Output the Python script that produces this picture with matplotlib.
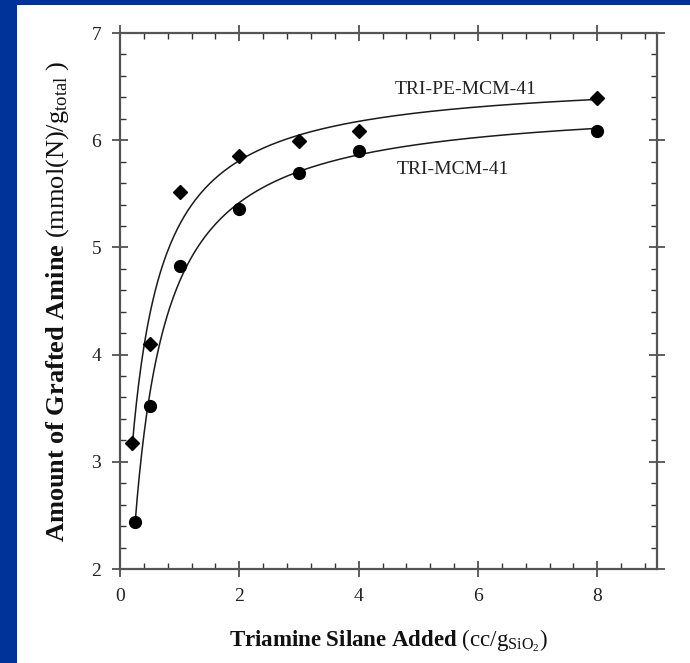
import numpy as np
import matplotlib
matplotlib.use("Agg")
import matplotlib.pyplot as plt
from matplotlib.patches import Rectangle
from matplotlib.ticker import MultipleLocator

# ---- data ----
pe_x = [0.2, 0.5, 1, 2, 3, 4, 8]
pe_y = [3.18, 4.10, 5.52, 5.85, 5.99, 6.09, 6.39]
tri_x = [0.25, 0.5, 1, 2, 3, 4, 8]
tri_y = [2.44, 3.52, 4.83, 5.36, 5.69, 5.90, 6.09]
series_names = ["TRI-PE-MCM-41", "TRI-MCM-41"]
x_ticks = [0, 2, 4, 6, 8]
y_ticks = [2, 3, 4, 5, 6, 7]

plt.rcParams["font.family"] = ["Liberation Serif", "DejaVu Serif"]
plt.rcParams["mathtext.fontset"] = "custom"
plt.rcParams["mathtext.rm"] = "Liberation Serif"
plt.rcParams["mathtext.bf"] = "Liberation Serif:bold"
plt.rcParams["mathtext.it"] = "Liberation Serif:italic"


def hyperbola_fit(x, y):
    """Least-squares fit of y = y0 + a*x/(b+x)."""
    x = np.asarray(x, float)
    y = np.asarray(y, float)
    best = None
    for b in np.linspace(0.02, 3, 3000):
        f = x / (b + x)
        A = np.column_stack([np.ones_like(f), f])
        coef, *_ = np.linalg.lstsq(A, y, rcond=None)
        r = np.sum((A @ coef - y) ** 2)
        if best is None or r < best[0]:
            best = (r, b, coef)
    _, b, (y0, a) = best
    return lambda t: y0 + a * t / (b + t)


fig = plt.figure(figsize=(6.9, 6.63), dpi=100)
fig.patch.set_facecolor("#00339a")
panel = Rectangle((17 / 690, 0), 1, 1 - 5 / 663, transform=fig.transFigure,
                  facecolor="white", edgecolor="none", zorder=-10)
fig.patches.append(panel)

ax = fig.add_axes([120 / 690, 1 - 569 / 663, 537 / 690, 536 / 663])
ax.set_zorder(5)
ax.set_facecolor("white")

for xs, ys, mk, ms in [(pe_x, pe_y, "D", 7.2), (tri_x, tri_y, "o", 8.5)]:
    fit = hyperbola_fit(xs, ys)
    t = np.linspace(xs[0], xs[-1], 400)
    ax.plot(t, fit(t), color="#1a1a1a", lw=1.1, zorder=2)
    ax.plot(xs, ys, linestyle="none", marker=mk, color="black", ms=ms, zorder=3)

ax.text(4.6, 6.47, series_names[0], fontsize=14, ha="left", va="center", color="#222")
ax.text(4.64, 5.73, series_names[1], fontsize=14, ha="left", va="center", color="#222")

ax.set_xlim(0, 9)
ax.set_ylim(2, 7)
ax.set_xticks(x_ticks)
ax.set_yticks(y_ticks)
ax.xaxis.set_minor_locator(MultipleLocator(0.4))
ax.yaxis.set_minor_locator(MultipleLocator(0.2))
ax.tick_params(which="major", direction="inout", length=11, width=1.1, colors="#333",
               labelsize=14, labelcolor="#222", top=True, right=True, pad=8)
ax.tick_params(which="minor", direction="in", length=4, width=1.0, colors="#333",
               top=True, right=True)
for s in ax.spines.values():
    s.set_linewidth(1.6)
    s.set_color("#555")

ax.set_xlabel(r"$\mathbf{Triamine\ Silane\ Added}$ (cc/g$_{\mathrm{SiO_2}}$)",
              fontsize=16.5, color="#111", labelpad=16)
ax.set_ylabel(r"$\mathbf{Amount\ of\ Grafted\ Amine}$ (mmol(N)/g$_{\mathrm{total}}$ )",
              fontsize=19, color="#111", labelpad=15)

fig.savefig("out.png", dpi=100, facecolor=fig.get_facecolor())
